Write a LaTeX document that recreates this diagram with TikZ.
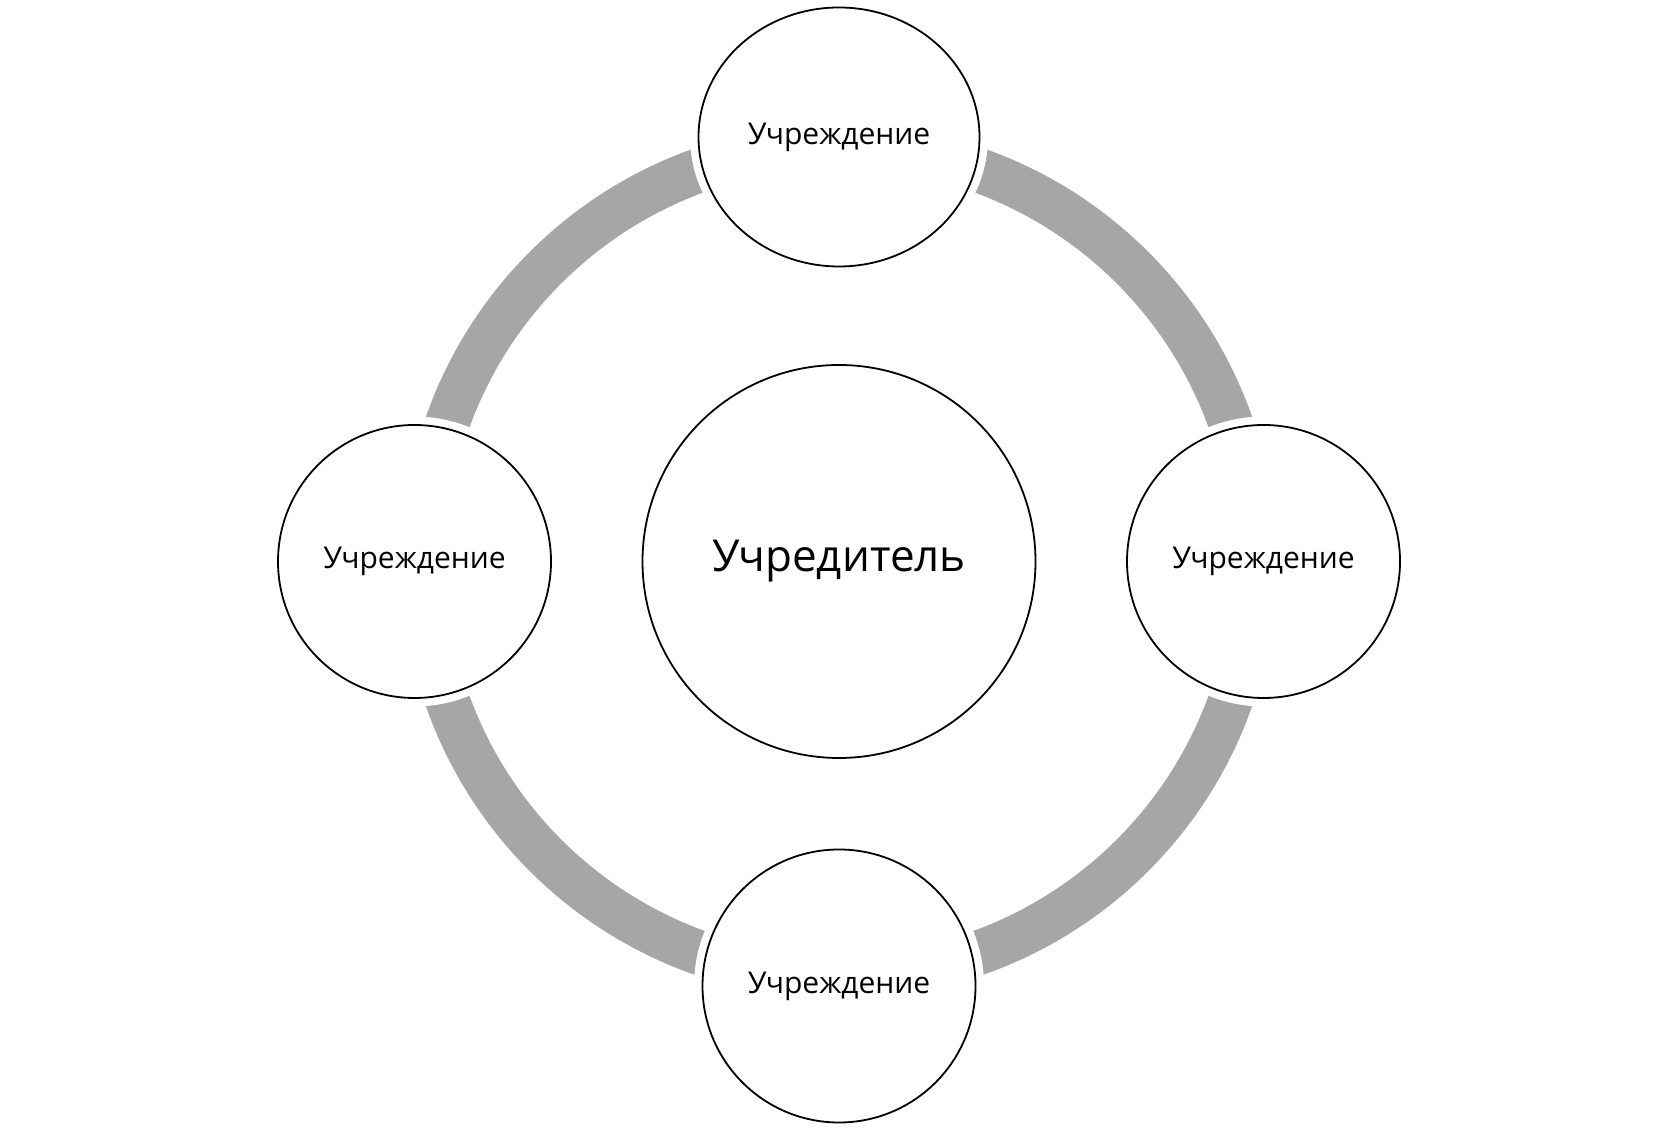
\documentclass[tikz,border=0pt]{standalone}
\usepackage{fontspec}
\setmainfont{Open Sans}
\usetikzlibrary{shapes.geometric}
\definecolor{ringgray}{RGB}{166,166,166}
\tikzset{
  ringarc/.style={draw=ringgray, line width=22.3pt},
  halo/.style={draw=white, line width=4pt},
  unit/.style={circle, draw=black, fill=white, line width=0.9pt, minimum size=136.5pt, inner sep=0pt, font=\fontsize{15}{18}\selectfont},
  unittop/.style={ellipse, draw=black, fill=white, line width=0.9pt, minimum width=140.5pt, minimum height=129.5pt, inner sep=0pt, font=\fontsize{15}{18}\selectfont},
  founder/.style={circle, draw=black, fill=white, line width=0.9pt, minimum size=196.5pt, inner sep=0pt, font=\fontsize{22}{26}\selectfont}
}
\begin{document}
\begin{tikzpicture}[x=1pt,y=1pt]
\fill[white] (0,0) rectangle (840,567);
\useasboundingbox (0,0) rectangle (840,567);
\coordinate (O) at (419.5,286.25);
% ring connectors
\draw[ringarc] ([shift={(90:207.65)}]O) arc[start angle=90, end angle=180, radius=207.65];
\draw[ringarc] ([shift={(180:207.65)}]O) arc[start angle=180, end angle=270, radius=207.65];
\draw[ringarc] ([shift={(270:207.65)}]O) arc[start angle=270, end angle=360, radius=207.65];
\draw[ringarc] ([shift={(0:207.65)}]O) arc[start angle=0, end angle=90, radius=207.65];
% halos
\draw[halo] (419.5,498.5) ellipse[x radius=72.5pt, y radius=67pt];
\draw[halo] (207.25,286.25) circle[radius=70.5pt];
\draw[halo] (631.75,286.25) circle[radius=70.5pt];
\draw[halo] (419.5,74) circle[radius=70.5pt];
% nodes
\node[founder] (C) at (O) {Учредитель};
\node[unittop] (T) at (419.5,498.5) {Учреждение};
\node[unit] (L) at (207.25,286.25) {Учреждение};
\node[unit] (R) at (631.75,286.25) {Учреждение};
\node[unit] (B) at (419.5,74) {Учреждение};
\end{tikzpicture}
\end{document}
